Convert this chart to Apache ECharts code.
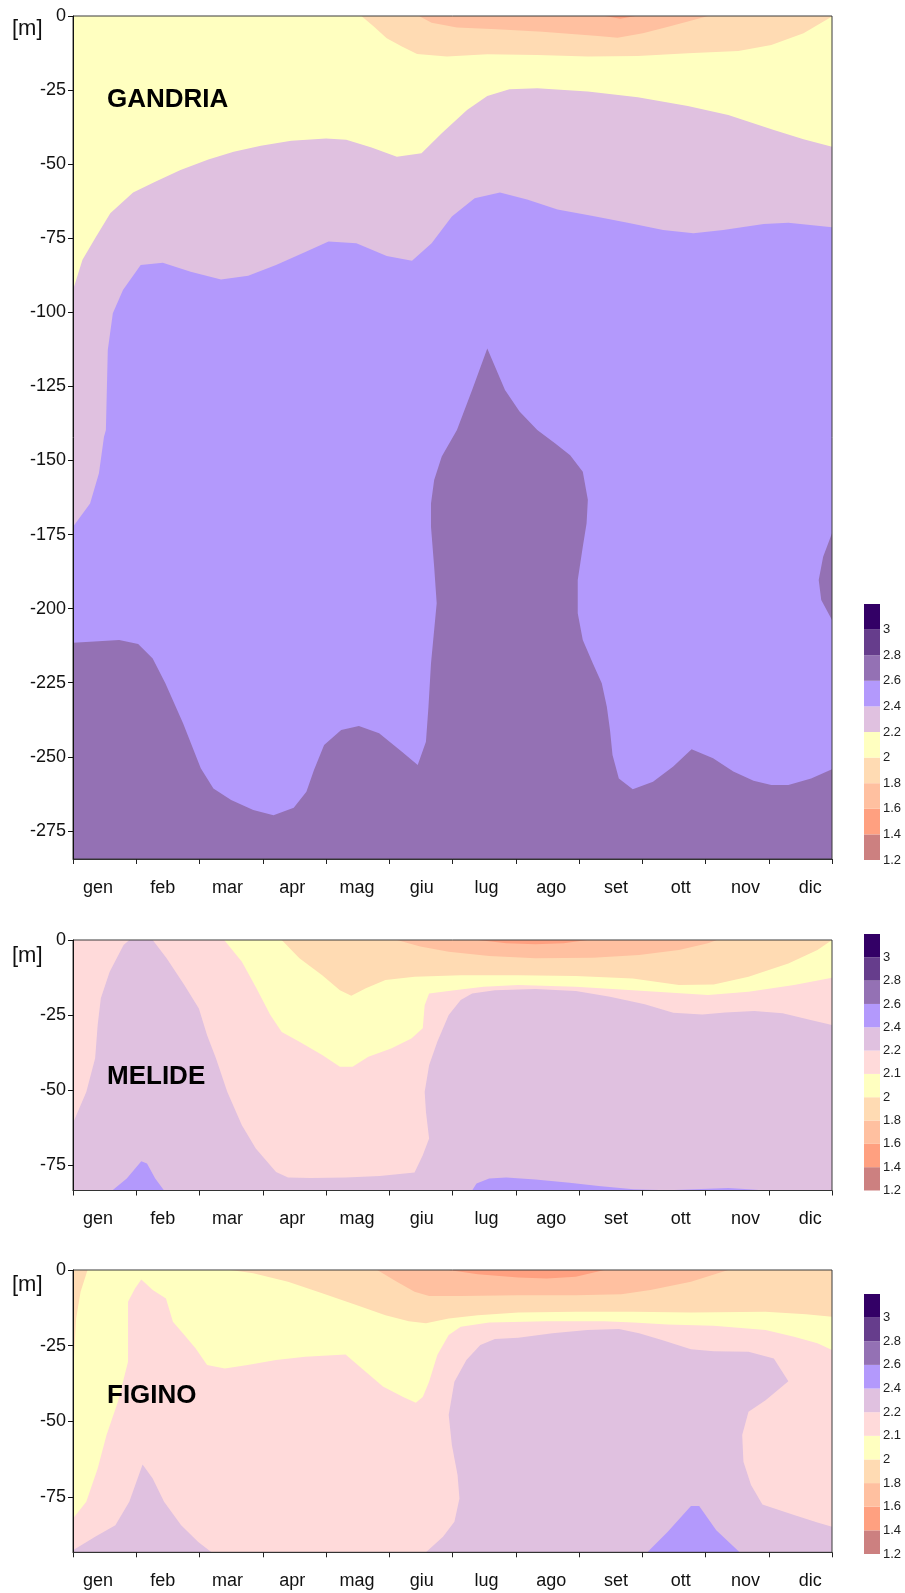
<!DOCTYPE html>
<html>
<head>
<meta charset="utf-8">
<script src="https://cdn.jsdelivr.net/npm/echarts@6/dist/echarts.min.js"></script>
<style>
  html, body { margin: 0; padding: 0; background: #ffffff; }
  #chart { width: 905px; height: 1593px; }
</style>
</head>
<body>
<div id="chart"></div>
<script>
// ---------- categories and tick labels ----------
const MONTHS = ['gen', 'feb', 'mar', 'apr', 'mag', 'giu', 'lug', 'ago', 'set', 'ott', 'nov', 'dic'];
const GANDRIA_KEY = ['1.2', '1.4', '1.6', '1.8', '2', '2.2', '2.4', '2.6', '2.8', '3'];
const MELIDE_KEY = ['1.2', '1.4', '1.6', '1.8', '2', '2.1', '2.2', '2.4', '2.6', '2.8', '3'];
const FIGINO_KEY = ['1.2', '1.4', '1.6', '1.8', '2', '2.1', '2.2', '2.4', '2.6', '2.8', '3'];

// lower bound of each colour class shown in the keys (bottom to top)
const GANDRIA_KEY_BANDS = [1.2, 1.4, 1.6, 1.8, 2.0, 2.2, 2.4, 2.6, 2.8, 3.0];
const MELIDE_KEY_BANDS = [1.2, 1.4, 1.6, 1.8, 2.0, 2.1, 2.2, 2.4, 2.6, 2.8, 3.0];
const FIGINO_KEY_BANDS = [1.2, 1.4, 1.6, 1.8, 2.0, 2.1, 2.2, 2.4, 2.6, 2.8, 3.0];

// bottom of each section, m
const GANDRIA_FLOOR = -284.5;
const MELIDE_FLOOR = -83.4;
const FIGINO_FLOOR = -93.2;

// ---------- GANDRIA isolines: [month position, depth m] ----------
const gandriaAll = [[0, 0], [12, 0], [12, -284.5], [0, -284.5]];
const gandriaIso26 = [[0, 0], [0, -211.5], [0.27, -211.2], [0.73, -210.6], [1.03, -211.9], [1.26, -216.8], [1.46, -225.2],
  [1.74, -238.7], [2.02, -253.9], [2.22, -260.7], [2.50, -264.6], [2.85, -268.0], [3.17, -269.7], [3.49, -267.2],
  [3.69, -261.8], [3.81, -254.5], [3.97, -246.0], [4.24, -241.0], [4.52, -239.6], [4.84, -242.1], [5.20, -248.3],
  [5.45, -252.8], [5.58, -244.9], [5.62, -233.1], [5.66, -218.5], [5.71, -207.2], [5.75, -198.2], [5.71, -185.9],
  [5.66, -172.4], [5.66, -164.5], [5.71, -156.6], [5.83, -148.7], [6.07, -139.7], [6.31, -126.2], [6.55, -112.2],
  [6.83, -126.2], [7.06, -133.5], [7.34, -139.7], [7.62, -144.2], [7.86, -148.2], [8.06, -153.8], [8.14, -163.3],
  [8.12, -171.2], [8.06, -179.1], [7.98, -190.3], [7.98, -201.6], [8.06, -210.6], [8.22, -218.5], [8.36, -225.2],
  [8.44, -233.1], [8.49, -241.0], [8.53, -249.4], [8.63, -257.3], [8.85, -261.0], [9.17, -258.4], [9.49, -253.3],
  [9.78, -247.5], [10.12, -250.5], [10.44, -255.0], [10.76, -258.1], [11.04, -259.5], [11.31, -259.5], [11.67, -257.3],
  [12, -254.2], [12, -203.8], [11.83, -197.1], [11.79, -190.3], [11.86, -182.5], [12, -174.6], [12, 0]];
const gandriaIso24 = [[0, 0], [0, -172.4], [0.27, -164.5], [0.41, -154.3], [0.49, -142.0], [0.52, -139.7], [0.55, -112.7],
  [0.63, -100.3], [0.79, -92.5], [1.07, -84.0], [1.42, -83.3], [1.86, -86.3], [2.34, -88.9], [2.77, -87.7], [3.21, -84.0],
  [3.69, -79.5], [4.04, -76.1], [4.48, -76.7], [4.96, -81.0], [5.36, -82.6], [5.67, -76.7], [5.99, -67.7], [6.35, -61.5],
  [6.75, -59.6], [7.18, -61.9], [7.66, -65.3], [8.22, -67.5], [8.77, -69.8], [9.33, -72.2], [9.81, -73.3], [10.28, -72.2],
  [10.92, -70.2], [11.31, -69.8], [12, -71.3], [12, 0]];
const gandriaIso22 = [[0, 0], [0, -92.5], [0.15, -82.3], [0.35, -75.0], [0.59, -66.6], [0.95, -59.6], [1.30, -55.9],
  [1.70, -52.0], [2.14, -48.4], [2.54, -45.8], [2.97, -43.8], [3.45, -42.1], [4.00, -41.3], [4.32, -41.8], [4.72, -44.4],
  [5.12, -47.5], [5.51, -46.3], [5.83, -39.6], [6.23, -31.7], [6.55, -27.0], [6.90, -24.7], [7.34, -24.4], [8.14, -25.5],
  [8.93, -27.4], [9.72, -30.4], [10.36, -33.4], [11.08, -38.5], [11.55, -41.6], [12, -44.1], [12, 0]];
const gandriaIso20 = [[4.56, 0], [4.76, -3.6], [4.96, -7.5], [5.20, -10.3], [5.44, -12.8], [5.91, -13.7], [6.55, -12.9],
  [7.34, -13.2], [8.14, -13.7], [8.93, -13.5], [9.72, -12.6], [10.52, -11.8], [11.04, -9.8], [11.55, -5.8], [12, -0.2], [12, 0]];
const gandriaIso18 = [[5.47, 0], [5.67, -2.25], [6.07, -3.9], [6.70, -4.5], [7.42, -5.3], [8.30, -6.75], [8.61, -7.3],
  [9.01, -5.85], [9.41, -3.6], [9.81, -1.35], [10.04, 0]];
const gandriaIso16 = [[8.41, 0], [8.65, -0.9], [8.89, 0]];

// ---------- MELIDE isolines ----------
const melideAll = [[0, 0], [12, 0], [12, -83.4], [0, -83.4]];
const melideLowWest = [[0, 0], [0, -60.9], [0.21, -50.6], [0.35, -39.4], [0.39, -28.3], [0.44, -19.4], [0.58, -10.6],
  [0.80, -1.7], [0.89, 0]];
const melideLowMain = [[1.26, 0], [1.48, -6.1], [1.76, -15.0], [1.99, -22.8], [2.12, -31.7], [2.26, -39.4], [2.44, -50.6],
  [2.67, -61.7], [2.89, -69.4], [3.21, -77.2], [3.40, -79.1], [3.76, -79.2], [4.31, -79.1], [4.85, -78.6], [5.40, -77.4],
  [5.53, -71.7], [5.63, -66.1], [5.58, -57.2], [5.56, -50.6], [5.63, -41.7], [5.76, -33.9], [5.94, -25.0], [6.13, -20.0],
  [6.31, -17.8], [6.67, -16.7], [7.31, -16.3], [7.95, -17.0], [8.49, -18.9], [9.04, -21.4], [9.49, -24.2], [9.95, -24.8],
  [10.31, -24.1], [10.77, -23.6], [11.22, -24.4], [11.68, -26.7], [12, -28.3], [12, 0]];
const melideHighFeb = [[0.62, -83.4], [0.85, -79.4], [1.08, -73.7], [1.17, -74.4], [1.30, -79.4], [1.44, -83.4]];
const melideHighSummer = [[6.31, -83.4], [6.38, -81.1], [6.58, -79.4], [6.85, -79.1], [7.31, -79.7], [7.85, -80.8],
  [8.31, -81.9], [8.86, -83.0], [9.40, -83.3], [10.04, -82.8], [10.36, -82.6], [10.68, -83.0], [10.95, -83.4]];
const melideIso21 = [[2.39, 0], [2.67, -7.2], [2.90, -16.1], [3.12, -25.0], [3.30, -30.6], [3.58, -33.9], [3.94, -38.3],
  [4.22, -42.2], [4.42, -42.2], [4.67, -38.9], [5.03, -36.1], [5.35, -32.8], [5.53, -29.4], [5.56, -21.7], [5.63, -17.8],
  [6.03, -16.7], [6.49, -15.6], [7.04, -15.0], [7.95, -15.6], [8.85, -16.7], [10.04, -18.3], [10.68, -17.2], [11.40, -15.0],
  [12, -12.6], [12, 0]];
const melideIso20 = [[3.30, 0], [3.58, -6.1], [3.94, -11.7], [4.22, -16.7], [4.40, -18.6], [4.63, -16.1], [4.94, -13.3],
  [5.40, -12.2], [6.13, -11.7], [7.04, -11.7], [7.95, -12.0], [8.85, -12.8], [9.58, -15.0], [10.13, -14.8], [10.68, -12.2],
  [11.31, -7.8], [11.77, -3.3], [12, 0]];
const melideIso18 = [[5.12, 0], [5.49, -2.2], [5.94, -3.9], [6.58, -5.3], [7.31, -6.1], [8.22, -5.9], [8.95, -5.0],
  [9.58, -3.3], [10.04, -1.1], [10.18, 0]];
const melideIso16 = [[6.40, 0], [6.85, -1.1], [7.31, -1.4], [7.76, -1.1], [8.13, 0]];

// ---------- FIGINO isolines ----------
const figinoAll = [[0, 0], [12, 0], [12, -93.2], [0, -93.2]];
const figinoIso21 = [[0, 0], [0, -82.0], [0.21, -76.5], [0.39, -65.5], [0.53, -54.5], [0.71, -43.5], [0.87, -30.3],
  [0.87, -10.5], [0.98, -6.1], [1.08, -3.1], [1.26, -6.6], [1.47, -9.4], [1.58, -17.1], [1.76, -21.5], [1.94, -25.9],
  [2.12, -31.4], [2.40, -32.5], [2.76, -31.4], [3.21, -29.7], [3.67, -28.6], [4.31, -27.9], [4.53, -31.9], [4.90, -38.5],
  [5.22, -41.9], [5.42, -43.8], [5.53, -41.9], [5.63, -36.9], [5.76, -28.1], [5.94, -21.5], [6.13, -18.7], [6.58, -17.3],
  [7.49, -16.9], [8.40, -16.9], [8.86, -17.3], [9.40, -18.0], [10.13, -18.4], [10.95, -19.8], [11.40, -22.0],
  [11.77, -24.2], [12, -26.4], [12, 0]];
const figinoIso20Top = [[2.49, 0], [2.85, -1.1], [3.40, -3.9], [3.94, -7.7], [4.49, -11.6], [4.94, -14.9], [5.31, -16.9],
  [5.58, -17.6], [5.94, -16.0], [6.40, -14.9], [7.04, -14.0], [7.95, -13.8], [8.86, -13.8], [9.77, -14.0], [10.95, -13.8],
  [11.59, -14.6], [12, -15.4], [12, 0]];
const figinoIso20Edge = [[0, 0], [0.23, 0], [0.12, -7.2], [0.05, -15.9], [0.02, -26.9], [0, -36.9]];
const figinoIso18 = [[4.81, 0], [5.12, -3.9], [5.40, -7.2], [5.63, -8.6], [6.13, -8.6], [7.04, -8.3], [7.95, -8.3],
  [8.67, -8.0], [9.13, -6.6], [9.77, -3.9], [10.36, 0]];
const figinoIso16 = [[5.94, 0], [6.40, -1.4], [7.04, -2.5], [7.49, -2.8], [7.95, -2.2], [8.40, 0]];
const figinoHighFeb = [[0, -93.2], [0, -92.5], [0.35, -88.1], [0.67, -84.3], [0.89, -76.5], [1.10, -64.2], [1.26, -68.8],
  [1.44, -76.5], [1.71, -84.3], [1.98, -89.8], [2.19, -93.2]];
const figinoHighSummer = [[5.58, -93.2], [5.85, -88.1], [6.03, -83.1], [6.11, -75.4], [6.08, -67.7], [5.99, -57.8],
  [5.94, -47.9], [6.03, -36.9], [6.22, -29.7], [6.44, -24.8], [6.67, -22.8], [7.04, -22.4], [7.58, -20.9], [8.13, -19.8],
  [8.63, -19.5], [8.95, -20.9], [9.31, -23.1], [9.77, -26.2], [10.13, -26.8], [10.68, -27.0], [11.08, -29.2],
  [11.31, -36.7], [10.95, -43.0], [10.68, -46.8], [10.58, -54.5], [10.60, -63.3], [10.72, -71.0], [10.90, -77.4],
  [11.40, -80.9], [11.77, -83.4], [12, -84.8], [12, -93.2]];
const figinoHighOtt = [[9.08, -93.2], [9.40, -86.5], [9.77, -77.9], [9.90, -77.9], [10.17, -85.9], [10.54, -93.2]];

// ---------- class colours (keyed by lower bound) ----------
const BAND_COLOR = {
  1.2: '#cc8080', 1.4: '#ffa080', 1.6: '#ffc0a0', 1.8: '#ffdbb3', 2.0: '#ffffc0', 2.1: '#ffdada',
  2.2: '#e0c1e0', 2.4: '#b399fc', 2.6: '#9471b4', 2.8: '#663d8c', 3.0: '#330066'
};

// painting order: each later region is drawn over the earlier ones
const sections = [
  {
    name: 'GANDRIA', floor: GANDRIA_FLOOR, key: GANDRIA_KEY, keyBands: GANDRIA_KEY_BANDS,
    layers: [
      { band: 2.6, shape: gandriaAll }, { band: 2.4, shape: gandriaIso26 }, { band: 2.2, shape: gandriaIso24 },
      { band: 2.0, shape: gandriaIso22 }, { band: 1.8, shape: gandriaIso20 }, { band: 1.6, shape: gandriaIso18 },
      { band: 1.4, shape: gandriaIso16 }
    ]
  },
  {
    name: 'MELIDE', floor: MELIDE_FLOOR, key: MELIDE_KEY, keyBands: MELIDE_KEY_BANDS,
    layers: [
      { band: 2.2, shape: melideAll }, { band: 2.1, shape: melideLowWest }, { band: 2.1, shape: melideLowMain },
      { band: 2.4, shape: melideHighFeb }, { band: 2.4, shape: melideHighSummer }, { band: 2.0, shape: melideIso21 },
      { band: 1.8, shape: melideIso20 }, { band: 1.6, shape: melideIso18 }, { band: 1.4, shape: melideIso16 }
    ]
  },
  {
    name: 'FIGINO', floor: FIGINO_FLOOR, key: FIGINO_KEY, keyBands: FIGINO_KEY_BANDS,
    layers: [
      { band: 2.1, shape: figinoAll }, { band: 2.0, shape: figinoIso21 }, { band: 1.8, shape: figinoIso20Top },
      { band: 1.8, shape: figinoIso20Edge }, { band: 1.6, shape: figinoIso18 }, { band: 1.4, shape: figinoIso16 },
      { band: 2.2, shape: figinoHighFeb }, { band: 2.2, shape: figinoHighSummer }, { band: 2.4, shape: figinoHighOtt }
    ]
  }
];

// ---------- page layout (pixels) ----------
const LAYOUT = [
  { top: 16, height: 843, keyTop: 604, keyHeight: 256, unitY: 27, nameY: 97 },
  { top: 940, height: 250.5, keyTop: 934, keyHeight: 256.5, unitY: 954, nameY: 1074 },
  { top: 1270, height: 282.3, keyTop: 1294, keyHeight: 260, unitY: 1283, nameY: 1393 }
];
const FONT = '"Liberation Sans", Arial, Helvetica, sans-serif';
const INK = '#111111';

const grid = [], xAxis = [], yAxis = [], series = [], graphic = [];

sections.forEach((sec, p) => {
  const L = LAYOUT[p];
  const depth = -sec.floor;
  const g0 = grid.length;

  // contour field
  grid.push({ left: 73, right: 73, top: L.top, height: L.height, show: true, z: 5,
    backgroundColor: 'transparent', borderColor: '#3a3a3a', borderWidth: 1, outerBoundsMode: 'none' });
  // month names
  grid.push({ left: 65.6, right: 62.4, top: L.top, height: L.height, outerBoundsMode: 'none' });
  // colour key
  grid.push({ left: 864, width: 16, top: L.keyTop, height: L.keyHeight, outerBoundsMode: 'none' });

  xAxis.push({
    gridIndex: g0, type: 'value', min: 0, max: 12, interval: 1, z: 6, position: 'bottom',
    axisLine: { show: true, onZero: false, lineStyle: { color: '#333', width: 1 } },
    axisTick: { show: true, length: 5, lineStyle: { color: '#222' } },
    axisLabel: { show: false }, splitLine: { show: false }
  });
  yAxis.push({
    gridIndex: g0, type: 'value', inverse: true, min: 0, max: depth, interval: 25, z: 6,
    axisLine: { show: true, onZero: false, lineStyle: { color: '#111', width: 1 } },
    axisTick: { show: true, length: 5, lineStyle: { color: '#111' } },
    axisLabel: { show: true, showMaxLabel: false, margin: 7, fontSize: 18, fontFamily: FONT, color: INK,
      formatter: v => (v === 0 ? '0' : '-' + v) },
    splitLine: { show: false }
  });

  xAxis.push({
    gridIndex: g0 + 1, type: 'category', data: MONTHS, boundaryGap: true, position: 'bottom',
    axisLine: { show: false, onZero: false }, axisTick: { show: false },
    axisLabel: { show: true, interval: 0, margin: 20, fontSize: 18, fontFamily: FONT, color: INK },
    splitLine: { show: false }
  });
  yAxis.push({ gridIndex: g0 + 1, type: 'value', min: 0, max: 1, show: false });

  xAxis.push({ gridIndex: g0 + 2, type: 'value', min: 0, max: 1, show: false });
  yAxis.push({
    gridIndex: g0 + 2, type: 'value', min: 0, max: sec.keyBands.length, interval: 1, position: 'right',
    axisLine: { show: false }, axisTick: { show: false }, splitLine: { show: false },
    axisLabel: { show: true, margin: 3, fontSize: 13, fontFamily: FONT, color: '#222',
      formatter: v => (sec.key[v] !== undefined ? sec.key[v] : '') }
  });

  // filled isoline regions, through the section's axes
  series.push({
    type: 'custom', name: sec.name, xAxisIndex: g0, yAxisIndex: g0, z: 1, silent: true,
    data: sec.layers.map((layer, i) => [i, 0]),
    renderItem: (params, api) => {
      const layer = sec.layers[params.dataIndex];
      const points = layer.shape.map(([m, d]) => api.coord([m, -d]));
      return { type: 'polygon', shape: { points }, style: { fill: BAND_COLOR[layer.band], stroke: null } };
    }
  });

  // colour key blocks
  series.push({
    type: 'custom', name: sec.name + ' key', xAxisIndex: g0 + 2, yAxisIndex: g0 + 2, silent: true,
    data: sec.keyBands.map((b, i) => [i, b]),
    renderItem: (params, api) => {
      const i = api.value(0);
      const a = api.coord([0, i]);
      const b = api.coord([1, i + 1]);
      return { type: 'rect', shape: { x: a[0], y: b[1], width: b[0] - a[0], height: a[1] - b[1] },
        style: { fill: BAND_COLOR[api.value(1)] } };
    }
  });

  graphic.push({ type: 'text', z: 20, left: 12, top: L.unitY - 9,
    style: { text: '[m]', fontSize: 22, fontFamily: FONT, fill: INK } });
  graphic.push({ type: 'text', z: 20, left: 107, top: L.nameY - 10,
    style: { text: sec.name, fontSize: 26, fontWeight: 'bold', fontFamily: FONT, fill: '#000' } });
});

const chart = echarts.init(document.getElementById('chart'), null, { renderer: 'canvas' });
chart.setOption({
  animation: false,
  backgroundColor: '#ffffff',
  textStyle: { fontFamily: FONT },
  grid, xAxis, yAxis, series, graphic
});
</script>
</body>
</html>
